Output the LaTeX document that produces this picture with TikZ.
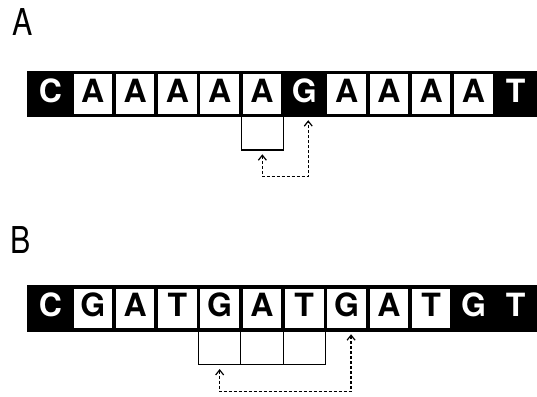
\documentclass[tikz,border=0pt]{standalone}
\usepackage{fontspec}
\setmainfont{TeX Gyre Heros}
\newfontfamily\cellfont{texgyreheros-bold.otf}
\usetikzlibrary{arrows.meta,calc}
\begin{document}
\begin{tikzpicture}[x=1pt,y=-1pt,
  wcell/.style={fill=white, minimum width=38.5pt, minimum height=39.5pt, inner sep=0pt,
    font=\cellfont\fontsize{32}{32}\selectfont, text height=22.3pt, text depth=5pt, anchor=center},
  bcell/.style={wcell, fill=none, text=white},
  brk/.style={draw=none, minimum width=42.3pt, inner sep=0pt, outer sep=0pt, anchor=north},
  brkline/.style={line width=1.1pt},
  link/.style={line width=1.3pt, dash pattern=on 3pt off 2pt,
    {Straight Barb[length=5pt,width=8pt,line width=1.2pt]}-{Straight Barb[length=5pt,width=8pt,line width=1.2pt]}},
  panel/.style={font=\fontsize{37}{37}\selectfont, anchor=base west, inner sep=0pt}]
\useasboundingbox (0,0) rectangle (537,396);

% panel labels
\node[panel] (labA) at (12,35) {\scalebox{0.82}[1]{A}};
\node[panel] (labB) at (10.6,253) {\scalebox{0.82}[1]{B}};

% row A
\fill[black] (27,71) rectangle (537,116.7);
\foreach \s/\l [count=\i from 0] in {bcell/C,wcell/A,wcell/A,wcell/A,wcell/A,wcell/A,bcell/G,wcell/A,wcell/A,wcell/A,wcell/A,bcell/T}
  \node[\s] (a\i) at ({50.45+42.3*\i},93.8) {\l};

\node[brk, minimum height=33.3pt] (brA) at (262.35,116.7) {};
\draw[brkline] (brA.north west) -- (brA.south west) -- (brA.south east) -- (brA.north east);
\draw[link] ($(brA.south)+(0,4.3)$) -- ++(0,22.4) -| ($(a6.south)+(4,6.45)$);

% row B
\fill[black] (27,285) rectangle (537,331.7);
\foreach \s/\l [count=\i from 0] in {bcell/C,wcell/G,wcell/A,wcell/T,wcell/G,wcell/A,wcell/T,wcell/G,wcell/A,wcell/T,bcell/G,bcell/T}
  \node[\s] (b\i) at ({50.45+42.3*\i},308.3) {\l};

\node[brk, minimum height=32.6pt] (brB1) at (219.65,331.7) {};
\node[brk, minimum height=32.6pt] (brB2) at (261.95,331.7) {};
\node[brk, minimum height=32.6pt] (brB3) at (304.25,331.7) {};
\draw[brkline] (brB1.north west) -- (brB1.south west) -- (brB3.south east) -- (brB3.north east);
\draw[brkline] (brB1.north east) -- (brB1.south east);
\draw[brkline] (brB2.north east) -- (brB2.south east);
\draw[link] ($(brB1.south)+(0,4.7)$) -- ++(0,22.7) -| ($(b7.south)+(4.5,6)$);
\end{tikzpicture}
\end{document}
